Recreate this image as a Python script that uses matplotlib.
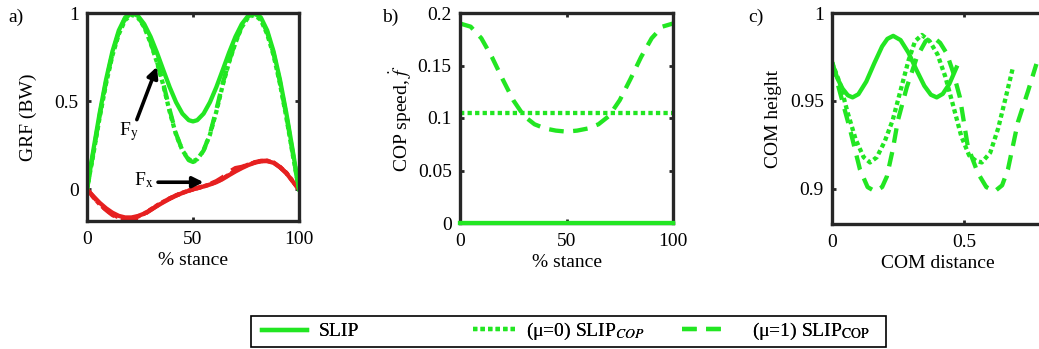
import matplotlib
matplotlib.use("Agg")
import matplotlib.pyplot as plt
from matplotlib.patches import Rectangle

plt.rcParams['font.family'] = ['Liberation Serif', 'DejaVu Serif']
plt.rcParams['mathtext.fontset'] = 'stix'
plt.rcParams['font.size'] = 14

GREEN = '#22e622'
RED = '#e62020'
SPINE = '#262626'

# ---- panel a: ground reaction forces vs % stance ----
stance = [0, 3, 6, 9, 12, 15, 18, 21, 24, 27, 30, 33, 36, 39, 42, 45, 48, 50,
          52, 55, 58, 61, 64, 67, 70, 73, 76, 79, 82, 85, 88, 91, 94, 97, 100]

fy_slip = [0, 0.223, 0.434, 0.623, 0.782, 0.901, 0.975, 1.0, 0.984, 0.937, 0.865, 0.775,
           0.676, 0.579, 0.494, 0.429, 0.392, 0.385,
           0.392, 0.429, 0.494, 0.579, 0.676, 0.775, 0.865, 0.937, 0.984, 1.0,
           0.975, 0.901, 0.782, 0.623, 0.434, 0.223, 0]
fy_mu0 = [0, 0.20, 0.41, 0.60, 0.76, 0.88, 0.96, 0.99, 0.975, 0.92, 0.83, 0.72,
          0.59, 0.44, 0.31, 0.22, 0.17, 0.16,
          0.17, 0.22, 0.31, 0.44, 0.59, 0.72, 0.83, 0.92, 0.975, 0.99,
          0.96, 0.88, 0.76, 0.60, 0.41, 0.20, 0]
fy_mu1 = [0, 0.21, 0.42, 0.61, 0.77, 0.89, 0.97, 1.0, 0.98, 0.925, 0.835, 0.725,
          0.60, 0.45, 0.315, 0.22, 0.165, 0.155,
          0.165, 0.22, 0.315, 0.45, 0.60, 0.725, 0.835, 0.925, 0.98, 1.0,
          0.97, 0.89, 0.77, 0.61, 0.42, 0.21, 0]

fx_slip = [0, -0.04, -0.077, -0.108, -0.133, -0.151, -0.16, -0.16, -0.152, -0.138, -0.117,
           -0.095, -0.074, -0.054, -0.036, -0.021, -0.008, 0.0,
           0.006, 0.016, 0.027, 0.04, 0.058, 0.08, 0.101, 0.12, 0.137, 0.15,
           0.159, 0.16, 0.15, 0.125, 0.092, 0.045, 0]
fx_mu0 = [0, -0.045, -0.085, -0.117, -0.142, -0.16, -0.167, -0.165, -0.155, -0.138, -0.115,
          -0.092, -0.071, -0.052, -0.035, -0.02, -0.008, 0.0,
          0.006, 0.016, 0.028, 0.042, 0.06, 0.083, 0.105, 0.124, 0.14, 0.152,
          0.16, 0.161, 0.152, 0.127, 0.094, 0.047, 0]
fx_mu1 = [0, -0.043, -0.083, -0.118, -0.146, -0.165, -0.174, -0.175, -0.163, -0.142, -0.118,
          -0.094, -0.072, -0.052, -0.035, -0.02, -0.008, 0.0,
          0.007, 0.018, 0.03, 0.046, 0.068, 0.098, 0.12, 0.127, 0.14, 0.153,
          0.161, 0.162, 0.152, 0.126, 0.092, 0.046, 0]

# ---- panel b: COP speed ----
stance_b = [0, 5, 10, 15, 20, 25, 30, 35, 40, 45, 50, 55, 60, 65, 70, 75, 80, 85, 90, 95, 100]
cop_slip = [0] * len(stance_b)
cop_mu0 = [0.105] * len(stance_b)
cop_mu1 = [0.19, 0.187, 0.176, 0.158, 0.137, 0.117, 0.102, 0.094, 0.09, 0.088, 0.087,
           0.088, 0.09, 0.094, 0.102, 0.117, 0.137, 0.158, 0.176, 0.187, 0.19]

# ---- panel c: COM height vs COM distance ----
com_x_slip = [0, 0.02, 0.04, 0.06, 0.078, 0.1, 0.13, 0.16, 0.19, 0.21, 0.232, 0.26, 0.29,
              0.32, 0.35, 0.375, 0.397, 0.42, 0.445, 0.472]
com_y_slip = [0.972, 0.963, 0.957, 0.9532, 0.952, 0.9538, 0.961, 0.9713, 0.981, 0.9853, 0.987,
              0.9846, 0.9774, 0.9677, 0.9586, 0.9535, 0.952, 0.954, 0.9597, 0.969]
com_x_mu0 = [0, 0.03, 0.06, 0.09, 0.12, 0.144, 0.17, 0.2, 0.23, 0.26, 0.29, 0.315, 0.341,
             0.37, 0.4, 0.43, 0.46, 0.49, 0.52, 0.545, 0.568, 0.6, 0.63, 0.66, 0.686]
com_y_mu0 = [0.972, 0.96, 0.943, 0.928, 0.918, 0.915, 0.918, 0.927, 0.939, 0.956, 0.973, 0.984,
             0.9875, 0.984, 0.9765, 0.9636, 0.947, 0.93, 0.919, 0.916, 0.915, 0.9206, 0.9344,
             0.9528, 0.969]
com_x_mu1 = [0, 0.03, 0.068, 0.106, 0.135, 0.163, 0.19, 0.208, 0.23, 0.25, 0.284, 0.322, 0.355,
             0.383, 0.41, 0.435, 0.46, 0.485, 0.515, 0.553, 0.585, 0.617, 0.645, 0.667, 0.705,
             0.742, 0.775]
com_y_mu1 = [0.972, 0.955, 0.934, 0.911, 0.901, 0.8986, 0.901, 0.907, 0.922, 0.939, 0.958, 0.975,
             0.984, 0.9864, 0.983, 0.977, 0.966, 0.952, 0.924, 0.909, 0.901, 0.8986, 0.902, 0.911,
             0.938, 0.955, 0.971]

LW = 3.1
SOLID = '-'
DOT = (0, (1.0, 0.75))
DASH = (0, (3.4, 2.2))

W, H = 1039, 349
fig = plt.figure(figsize=(W / 100, H / 100), dpi=100)


def box(l, t, r, b):
    return [l / W, (H - b) / H, (r - l) / W, (b - t) / H]


def style(ax, w, h):
    for s in ax.spines.values():
        s.set_color(SPINE)
        s.set_linewidth(2.4)
    ax.tick_params(direction='in', length=3, width=2, color=SPINE,
                   top=True, right=True, labelsize=14)
    ax.tick_params(axis='x', pad=7)
    ax.tick_params(axis='y', pad=6)
    # put axis labels where the reference has them (pixels from the spines)
    ax.yaxis.set_label_coords(-59 / w, 0.5)
    ax.xaxis.set_label_coords(0.5, -31 / h)


ax1 = fig.add_axes(box(87, 13, 299, 221))
ax1.plot(stance, fx_slip, color=RED, lw=LW, ls=SOLID)
ax1.plot(stance, fx_mu0, color=RED, lw=LW, ls=DOT)
ax1.plot(stance, fx_mu1, color=RED, lw=LW, ls=DASH)
ax1.plot(stance, fy_slip, color=GREEN, lw=LW, ls=SOLID)
ax1.plot(stance, fy_mu0, color=GREEN, lw=LW, ls=DOT)
ax1.plot(stance, fy_mu1, color=GREEN, lw=LW, ls=DASH)
ax1.set_xlim(0, 100)
ax1.set_ylim(-0.18, 1.0)
ax1.set_xticks([0, 50, 100])
ax1.set_yticks([0, 0.5, 1])
ax1.set_yticklabels(['0', '0.5', '1'])
ax1.set_xlabel('% stance', va='top')
ax1.set_ylabel('GRF (BW)', va='center')
arrow = dict(arrowstyle='-|>', lw=2.6, color='k', mutation_scale=16, shrinkA=0, shrinkB=0)
ax1.annotate('', xy=(33, 0.695), xytext=(23.5, 0.395), arrowprops=arrow)
ax1.text(19.5, 0.33, r'F$_\mathrm{y}$', ha='center', va='center', fontsize=14)
ax1.annotate('', xy=(55, 0.04), xytext=(33.5, 0.04), arrowprops=arrow)
ax1.text(27.0, 0.05, r'F$_\mathrm{x}$', ha='center', va='center', fontsize=14)
style(ax1, 212, 208)

ax2 = fig.add_axes(box(460, 13, 673, 223))
l_slip, = ax2.plot(stance_b, cop_slip, color=GREEN, lw=LW, ls=SOLID, clip_on=False, zorder=5)
l_mu0, = ax2.plot(stance_b, cop_mu0, color=GREEN, lw=LW, ls=DOT)
l_mu1, = ax2.plot(stance_b, cop_mu1, color=GREEN, lw=LW, ls=DASH)
ax2.set_xlim(0, 100)
ax2.set_ylim(0, 0.2)
ax2.set_xticks([0, 50, 100])
ax2.set_yticks([0, 0.05, 0.1, 0.15, 0.2])
ax2.set_yticklabels(['0', '0.05', '0.1', '0.15', '0.2'])
ax2.set_xlabel('% stance', va='top')
ax2.set_ylabel(r'COP speed, $\dot{f}$', va='center')
style(ax2, 213, 210)

ax3 = fig.add_axes(box(832, 13, 1043, 224))
ax3.plot(com_x_slip, com_y_slip, color=GREEN, lw=LW, ls=SOLID)
ax3.plot(com_x_mu0, com_y_mu0, color=GREEN, lw=LW, ls=DOT)
ax3.plot(com_x_mu1, com_y_mu1, color=GREEN, lw=LW, ls=DASH)
ax3.set_xlim(0, 0.8)
ax3.set_ylim(0.88, 1.0)
ax3.set_xticks([0, 0.5])
ax3.set_xticklabels(['0', '0.5'])
ax3.set_yticks([0.9, 0.95, 1.0])
ax3.set_yticklabels(['0.9', '0.95', '1'])
ax3.set_xlabel('COM distance', va='top')
ax3.set_ylabel('COM height', va='center')
style(ax3, 211, 211)

fig.text(8 / W, 1 - 17 / H, 'a)', fontsize=14, va='center')
fig.text(382 / W, 1 - 17 / H, 'b)', fontsize=14, va='center')
fig.text(748 / W, 1 - 17 / H, 'c)', fontsize=14, va='center')

# legend frame and entries
fig.patches.append(Rectangle((251 / W, (H - 347) / H), (886 - 251) / W, 31 / H,
                             transform=fig.transFigure, fill=False, ec='k', lw=1.2))
ly = (H - 331.5) / H
entries = [(l_slip, 'SLIP', 262, 2.3, 0.62),
           (l_mu0, r'(μ=0) SLIP$_{COP}$', 473, 2.16, 0.57),
           (l_mu1, r'(μ=1) SLIP$_{\mathrm{COP}}$', 682, 2.06, 1.54)]
for h, lab, x0, hl, pad in entries:
    leg = fig.legend([h], [lab], loc='center left', bbox_to_anchor=(x0 / W, ly),
                     frameon=False, borderpad=0, borderaxespad=0,
                     handlelength=hl, handletextpad=pad, fontsize=14)
    fig.add_artist(leg)

fig.savefig('out.png', dpi=100)
